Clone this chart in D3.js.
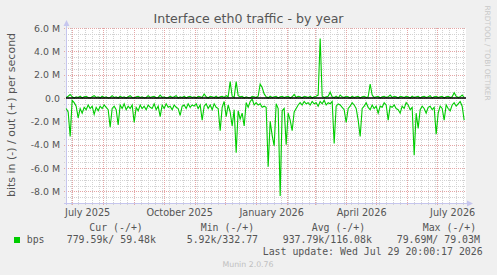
<!DOCTYPE html>
<html>
<head>
<meta charset="utf-8">
<script src="https://cdn.jsdelivr.net/npm/d3@7"></script>
<style>
  body { margin: 0; background: #f0f0f0; }
  svg { display: block; }
</style>
</head>
<body>
<script>

// traffic in Mbit/s, one sample every 2 days starting 2025-06-25
var startDay = Date.UTC(2025, 5, 25);
var stepDays = 2;

// in (plotted below zero)
var inValues = [0.9, 1.2, 3.3, 0.2, 0.4, 0.7, 1.7, 0.9, 1.3, 0.8,
  1.0, 0.6, 0.9, 0.7, 1.4, 0.8, 1.1, 0.7, 0.9, 0.6,
  0.8, 1.0, 2.5, 0.9, 0.7, 1.0, 2.3, 0.6, 0.9, 0.5,
  1.0, 0.7, 0.9, 0.6, 2.1, 0.8, 1.1, 0.6, 0.9, 0.7,
  1.0, 0.6, 0.8, 0.9, 0.5, 1.0, 0.7, 1.6, 0.6, 0.9,
  0.5, 0.8, 0.7, 1.0, 0.6, 0.8, 0.9, 1.5, 0.7, 0.6,
  0.9, 0.5, 0.8, 0.6, 0.7, 0.5, 0.9, 0.6, 1.9, 0.7,
  0.5, 0.9, 0.6, 1.0, 0.5, 0.8, 0.9, 2.8, 0.8, 0.3,
  1.6, 0.6, 1.2, 2.4, 1.0, 4.7, 1.1, 1.8, 1.3, 2.4,
  0.4, 0.8, 0.3, 0.1, 0.6, 0.4, 0.6, 0.5, 0.8, 0.7,
  0.8, 5.9, 2.0, 3.2, 4.1, 0.5, 0.9, 8.4, 1.1, 0.9,
  4.0, 1.3, 1.9, 2.8, 1.2, 0.9, 0.6, 0.4, 0.6, 0.3,
  0.5, 0.4, 0.6, 0.3, 0.5, 0.4, 0.7, 0.3, 0.5, 0.2,
  0.6, 0.4, 0.5, 0.3, 3.9, 0.7, 0.5, 0.6, 0.8, 1.0,
  2.1, 0.9, 0.7, 0.4, 0.6, 0.9, 1.9, 3.3, 0.9, 0.7,
  0.4, 0.8, 1.0, 0.6, 0.9, 0.7, 1.3, 0.7, 0.8, 0.4,
  0.6, 1.9, 0.7, 0.8, 0.6, 0.9, 1.0, 1.3, 0.7, 0.9,
  0.4, 0.6, 1.0, 0.8, 4.9, 1.3, 2.6, 1.0, 0.7, 0.9,
  1.3, 0.8, 0.7, 1.0, 0.8, 3.1, 1.3, 0.7, 0.9, 1.9,
  0.6, 0.9, 1.1, 0.6, 0.4, 0.7, 0.5, 0.3, 0.7, 1.9];

// out (plotted above zero)
var outValues = [0.05, 0.15, 0.3, 0.1, 0.0, 0.1, 0.05, 0.15, 0.0, 0.1,
  0.15, 0.05, 0.0, 0.1, 0.2, 0.05, 0.1, 0.0, 0.15, 0.05,
  0.1, 0.0, 0.05, 0.2, 0.05, 0.1, 0.0, 0.15, 0.05, 0.1,
  0.0, 0.1, 0.2, 0.05, 0.0, 0.1, 0.15, 0.05, 0.1, 0.0,
  0.05, 0.2, 0.05, 0.1, 0.15, 0.0, 0.05, 0.25, 0.05, 0.1,
  0.0, 0.05, 0.15, 0.05, 0.1, 0.2, 0.0, 0.1, 0.05, 0.15,
  0.0, 0.1, 0.15, 0.05, 0.1, 0.0, 0.15, 0.1, 0.05, 0.35,
  0.1, 0.0, 0.15, 0.1, 0.05, 0.15, 0.0, 0.1, 0.15, 0.05,
  0.2, 0.1, 1.4, 0.15, 0.05, 1.4, 0.2, 0.1, 0.15, 0.0,
  0.1, 0.05, 0.0, 0.15, 0.1, 0.05, 0.15, 1.2, 0.9, 0.35,
  0.1, 0.0, 0.15, 0.05, 0.1, 0.15, 0.0, 0.1, 0.15, 0.05,
  0.1, 0.15, 0.0, 0.1, 0.3, 0.05, 0.15, 0.1, 0.0, 0.15,
  0.1, 0.05, 0.15, 0.0, 0.1, 0.15, 0.25, 5.1, 0.15, 0.05,
  0.1, 0.15, 0.5, 0.1, 0.05, 0.15, 0.0, 0.25, 0.1, 0.05,
  0.15, 0.1, 0.0, 0.15, 0.05, 0.1, 0.15, 0.0, 0.1, 0.15,
  0.05, 0.1, 1.2, 0.25, 0.05, 0.1, 0.15, 0.0, 0.1, 0.15,
  0.05, 0.1, 0.25, 0.05, 0.15, 0.1, 0.0, 0.15, 0.1, 0.05,
  0.15, 0.1, 0.0, 0.15, 0.05, 0.1, 0.15, 0.0, 0.1, 0.15,
  0.05, 0.1, 0.2, 0.0, 0.1, 0.15, 0.05, 0.1, 0.15, 0.0,
  0.1, 0.15, 0.05, 0.1, 0.45, 0.15, 0.05, 0.1, 0.25, 0.05];

var yMajorTicks = [-8, -6, -4, -2, 0, 2, 4, 6];
var xLabelMonths = ["2025-07", "2025-10", "2026-01", "2026-04", "2026-07"];
var xLabels = ["July 2025", "October 2025", "January 2026", "April 2026", "July 2026"];

var legendHeaders = ["Cur (-/+)", "Min (-/+)", "Avg (-/+)", "Max (-/+)"];
var legendValues = ["779.59k/ 59.48k", "5.92k/332.77", "937.79k/116.08k", "79.69M/ 79.03M"];

var W = 497, H = 275;
// plot box (window.top is reserved, so no "top" here)
var xLeft = 66, xRight = 466, yTop = 28, yBottom = 203;

var svg = d3.select("body").append("svg")
  .attr("width", W)
  .attr("height", H);

svg.append("rect").attr("width", W).attr("height", H).attr("fill", "#f0f0f0");
svg.append("rect")
  .attr("x", xLeft).attr("y", yTop)
  .attr("width", xRight - xLeft).attr("height", yBottom - yTop)
  .attr("fill", "#ffffff");

var x = d3.scaleUtc()
  .domain([new Date(Date.UTC(2025, 5, 24, 20)), new Date(Date.UTC(2026, 6, 29, 20))])
  .range([xLeft, xRight]);

var y = d3.scaleLinear()
  .domain([-9, 6])
  .range([yBottom, yTop]);

var dayMs = 86400000;
var dates = inValues.map(function(d, i) { return new Date(startDay + i * stepDays * dayMs); });

// grid
var minorY = d3.range(-8.5, 6.01, 0.5).filter(function(v) { return v % 2 !== 0; });
var gridMinor = "#d2d2d2", gridMajor = "#e4a6a6";

svg.append("g").selectAll("line")
  .data(minorY).enter().append("line")
  .attr("x1", xLeft - 2).attr("x2", xRight)
  .attr("y1", function(d) { return Math.round(y(d)) + 0.5; })
  .attr("y2", function(d) { return Math.round(y(d)) + 0.5; })
  .attr("stroke", gridMinor).attr("stroke-dasharray", "1,1");

var weeks = d3.utcMonday.range(x.domain()[0], x.domain()[1]);
svg.append("g").selectAll("line")
  .data(weeks).enter().append("line")
  .attr("x1", function(d) { return Math.round(x(d)) + 0.5; })
  .attr("x2", function(d) { return Math.round(x(d)) + 0.5; })
  .attr("y1", yTop).attr("y2", yBottom + 2)
  .attr("stroke", gridMinor).attr("stroke-dasharray", "1,1");

svg.append("g").selectAll("line")
  .data(yMajorTicks).enter().append("line")
  .attr("x1", xLeft - 2).attr("x2", xRight)
  .attr("y1", function(d) { return Math.round(y(d)) + 0.5; })
  .attr("y2", function(d) { return Math.round(y(d)) + 0.5; })
  .attr("stroke", gridMajor).attr("stroke-dasharray", "1,1");

var months = d3.utcMonth.range(x.domain()[0], x.domain()[1]);
svg.append("g").selectAll("line")
  .data(months).enter().append("line")
  .attr("x1", function(d) { return Math.round(x(d)) + 0.5; })
  .attr("x2", function(d) { return Math.round(x(d)) + 0.5; })
  .attr("y1", yTop).attr("y2", yBottom + 2)
  .attr("stroke", gridMajor).attr("stroke-dasharray", "1,1");

// axes
var axisColor = "#c6c6ee";
svg.append("line")
  .attr("x1", xLeft + 0.5).attr("x2", xLeft + 0.5)
  .attr("y1", yBottom + 2).attr("y2", 23)
  .attr("stroke", axisColor);
svg.append("path")
  .attr("d", "M" + (xLeft - 2.5) + ",26 L" + (xLeft + 0.5) + ",20 L" + (xLeft + 3.5) + ",26 Z")
  .attr("fill", axisColor);
svg.append("line")
  .attr("x1", xLeft - 2).attr("x2", 470)
  .attr("y1", yBottom + 0.5).attr("y2", yBottom + 0.5)
  .attr("stroke", axisColor);
svg.append("path")
  .attr("d", "M467," + (yBottom - 2.5) + " L473," + (yBottom + 0.5) + " L467," + (yBottom + 3.5) + " Z")
  .attr("fill", axisColor);

// y labels
svg.append("g").selectAll("text")
  .data(yMajorTicks).enter().append("text")
  .attr("x", 60)
  .attr("y", function(d) { return y(d) + 3.5; })
  .attr("text-anchor", "end")
  .attr("font-family", "DejaVu Sans")
  .attr("font-size", "9.4px")
  .attr("fill", "#555")
  .text(function(d) { return d === 0 ? "0.0" : d.toFixed(1) + " M"; });

// x labels, centred mid month
svg.append("g").selectAll("text")
  .data(xLabelMonths).enter().append("text")
  .attr("x", function(d) {
    var p = d.split("-");
    return x(new Date(Date.UTC(+p[0], +p[1] - 1, 16, 12)));
  })
  .attr("y", 215.5)
  .attr("text-anchor", "middle")
  .attr("font-family", "DejaVu Sans")
  .attr("font-size", "9.7px")
  .attr("fill", "#555")
  .text(function(d, i) { return xLabels[i]; });

// data lines
var lineIn = d3.line()
  .x(function(d, i) { return x(dates[i]); })
  .y(function(d) { return y(-d); });
var lineOut = d3.line()
  .x(function(d, i) { return x(dates[i]); })
  .y(function(d) { return y(d); });

svg.append("path")
  .datum(inValues)
  .attr("d", lineIn)
  .attr("fill", "none")
  .attr("stroke", "#00cc00")
  .attr("stroke-width", 1.1);

svg.append("path")
  .datum(outValues)
  .attr("d", lineOut)
  .attr("fill", "none")
  .attr("stroke", "#00cc00")
  .attr("stroke-width", 1.1);

// zero rule
svg.append("line")
  .attr("x1", xLeft).attr("x2", xRight)
  .attr("y1", y(0)).attr("y2", y(0))
  .attr("stroke", "#000")
  .attr("stroke-width", 1.3);

// title & side texts
svg.append("text")
  .attr("x", 248.5).attr("y", 22.5)
  .attr("text-anchor", "middle")
  .attr("font-family", "DejaVu Sans")
  .attr("font-size", "12.6px")
  .attr("fill", "#555")
  .text("Interface eth0 traffic - by year");

svg.append("text")
  .attr("transform", "translate(15,115) rotate(-90)")
  .attr("text-anchor", "middle")
  .attr("font-family", "DejaVu Sans")
  .attr("font-size", "11px")
  .attr("fill", "#555")
  .text("bits in (-) / out (+) per second");

svg.append("text")
  .attr("transform", "translate(485,53) rotate(90)")
  .attr("text-anchor", "middle")
  .attr("font-family", "DejaVu Sans")
  .attr("font-size", "7.4px")
  .attr("fill", "#c8c8c8")
  .text("RRDTOOL / TOBI OETIKER");

// legend
var mono = "DejaVu Sans Mono";
var headerX = [89.3, 200.7, 311.7, 422.7];
var valueX = [66.7, 186.7, 282.7, 396.7];

svg.append("g").selectAll("text")
  .data(legendHeaders).enter().append("text")
  .attr("x", function(d, i) { return headerX[i]; })
  .attr("y", 230.5)
  .attr("font-family", mono).attr("font-size", "9.9px")
  .attr("fill", "#555")
  .style("white-space", "pre")
  .text(function(d) { return d; });

svg.append("rect")
  .attr("x", 14).attr("y", 237)
  .attr("width", 6).attr("height", 6)
  .attr("fill", "#00cc00");

svg.append("text")
  .attr("x", 26.7).attr("y", 243.3)
  .attr("font-family", mono).attr("font-size", "9.9px")
  .attr("fill", "#555")
  .text("bps");

svg.append("g").selectAll("text")
  .data(legendValues).enter().append("text")
  .attr("x", function(d, i) { return valueX[i]; })
  .attr("y", 243.3)
  .attr("font-family", mono).attr("font-size", "9.9px")
  .attr("fill", "#555")
  .style("white-space", "pre")
  .text(function(d) { return d; });

svg.append("text")
  .attr("x", 482.7).attr("y", 254.5)
  .attr("text-anchor", "end")
  .attr("font-family", mono).attr("font-size", "9.9px")
  .attr("fill", "#555")
  .text("Last update: Wed Jul 29 20:00:17 2026");

svg.append("text")
  .attr("x", 248).attr("y", 266.5)
  .attr("text-anchor", "middle")
  .attr("font-family", "DejaVu Sans")
  .attr("font-size", "7.8px")
  .attr("fill", "#c0c0c0")
  .text("Munin 2.0.76");

</script>
</body>
</html>
